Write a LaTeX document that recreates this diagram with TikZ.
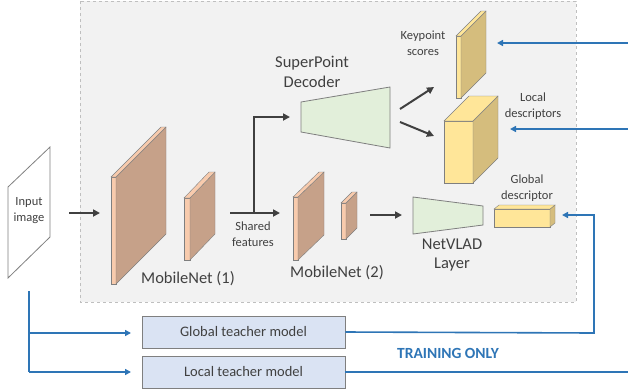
\documentclass[tikz,border=0pt]{standalone}
\usepackage{fontspec}
\setmainfont{Carlito}
\usetikzlibrary{arrows.meta}
\definecolor{bgc}{HTML}{F2F2F2}
\definecolor{boxline}{HTML}{BFBFBF}
\definecolor{brownside}{HTML}{C6A189}
\definecolor{orangefront}{HTML}{F8CBAD}
\definecolor{yelfront}{HTML}{FFE699}
\definecolor{yelside}{HTML}{D5BD7D}
\definecolor{greenfill}{HTML}{E2EFDA}
\definecolor{bluec}{HTML}{2E75B6}
\definecolor{teachfill}{HTML}{DAE3F3}
\definecolor{txt}{HTML}{404040}
\definecolor{edge}{HTML}{7F7F7F}
\newcommand\myslab[8]{%
  \filldraw[draw=edge,fill=#7] (#1,#3) rectangle (#2,#4);
  \filldraw[draw=edge,fill=#8] (#2,#3) -- ({#2+#5},{#3-#6}) -- ({#2+#5},{#4-#6}) -- (#2,#4) -- cycle;
  \filldraw[draw=edge,fill=#7] (#1,#3) -- ({#1+#5},{#3-#6}) -- ({#2+#5},{#3-#6}) -- (#2,#3) -- cycle;
}
\begin{document}
\begin{tikzpicture}[x=1pt,y=-1pt,
  darr/.style={draw=txt,line width=2pt,-{Triangle[length=7pt,width=7pt]}},
  dline/.style={draw=txt,line width=2pt},
  barr/.style={draw=bluec,line width=1.6pt,-{Triangle[length=6pt,width=6pt]}},
  bline/.style={draw=bluec,line width=1.6pt},
  lbl/.style={text=txt,align=center,inner sep=0pt},
  big/.style={lbl,font=\fontsize{16.5}{19.5}\selectfont},
  small/.style={lbl,font=\fontsize{12.5}{16}\selectfont},
  teacher/.style={draw=edge,fill=teachfill,line width=0.8pt,minimum width=203pt,minimum height=32pt,inner sep=0pt,text=txt,font=\fontsize{14.5}{16}\selectfont},
  trap/.style={draw=edge,fill=greenfill,line width=0.8pt}
]
\useasboundingbox (0,0) rectangle (628,389);
% background box
\filldraw[fill=bgc,draw=boxline,dashed,line width=0.6pt] (80,1) rectangle (576,302);

% input image
\filldraw[draw=edge,fill=white,line width=0.8pt] (8,187) -- (50,147) -- (50,237) -- (8,278) -- cycle;
\node[small] (input) at (29,211) {Input\\image};

% MobileNet 1
\myslab{111}{116}{177}{284}{50}{50}{orangefront}{brownside}
\myslab{184}{190}{198}{260}{25}{26}{orangefront}{brownside}
\node[big] (mn1) at (188,279) {MobileNet (1)};

% MobileNet 2
\myslab{293}{298}{197}{260}{26}{25}{orangefront}{brownside}
\myslab{341}{346}{203}{239}{11}{11}{orangefront}{brownside}
\node[big] (mn2) at (337,273) {MobileNet (2)};

% SuperPoint decoder
\filldraw[trap] (301,102) -- (390,87) -- (390,148) -- (301,132) -- cycle;
\node[big] (spd) at (312,72) {SuperPoint\\Decoder};

% NetVLAD
\filldraw[trap] (413,197) -- (483,206) -- (483,225) -- (413,234) -- cycle;
\node[big] (nv) at (452,255) {NetVLAD\\Layer};

% Keypoint scores
\myslab{456}{461}{36}{98}{25}{25}{yelfront}{yelside}
\node[small] (kps) at (423,43) {Keypoint\\scores};

% Local descriptors
\myslab{444}{473}{121}{183}{25}{25}{yelfront}{yelside}
\node[small] (ld) at (533,106) {Local\\descriptors};

% Global descriptor
\myslab{494}{550}{209}{227}{5}{4}{yelfront}{yelside}
\node[small] (gd) at (527,188) {Global\\descriptor};

% Shared features
\node[small] (sf) at (253,234) {Shared\\features};

% coordinates for connectors
\coordinate (in-out) at (69,213);
\coordinate (mn1-in) at (100,213);
\coordinate (mn1-out) at (230,213);
\coordinate (mn2-in) at (280,213);
\coordinate (split) at (254,213);
\coordinate (up) at (254,117);
\coordinate (spd-in) at (290,117);
\coordinate (mn2-out) at (370,215);
\coordinate (nv-in) at (402,215);
\coordinate (spd-o1) at (400,109);
\coordinate (kps-in) at (434,87);
\coordinate (spd-o2) at (400,122);
\coordinate (ld-in) at (434,136);

\draw[darr] (in-out) -- (mn1-in);
\draw[darr] (mn1-out) -- (mn2-in);
\draw[darr] (split) -- (up) -- (spd-in);
\draw[darr] (mn2-out) -- (nv-in);
\draw[darr] (spd-o1) -- (kps-in);
\draw[darr] (spd-o2) -- (ld-in);

% teacher models
\node[teacher] (gt) at (243.5,332) {Global teacher model};
\node[teacher] (lt) at (243.5,372) {Local teacher model};
\node[font=\bfseries\fontsize{15.5}{17}\selectfont,text=bluec,inner sep=0pt] (train) at (448,353) {TRAINING ONLY};

\coordinate (src) at (29,291);
\coordinate (b1) at (29,333);
\coordinate (b2) at (29,372);
\coordinate (gt-in) at (131,333);
\coordinate (lt-in) at (131,372);
\draw[bline] (src) -- (b2);
\draw[barr] (b1) -- (gt-in);
\draw[barr] (b2) -- (lt-in);

\coordinate (gt-r1) at (594,333);
\coordinate (gt-r2) at (594,215);
\coordinate (gd-in) at (562,215);
\draw[barr] (gt.east) -- (gt-r1) -- (gt-r2) -- (gd-in);

\coordinate (rt) at (628,372);
\draw[bline] (lt.east) -- (rt);

\coordinate (e1) at (628,43);
\coordinate (kps-r) at (497,43);
\coordinate (e2) at (628,129);
\coordinate (ld-r) at (510,129);
\draw[barr] (e1) -- (kps-r);
\draw[barr] (e2) -- (ld-r);
\end{tikzpicture}
\end{document}
